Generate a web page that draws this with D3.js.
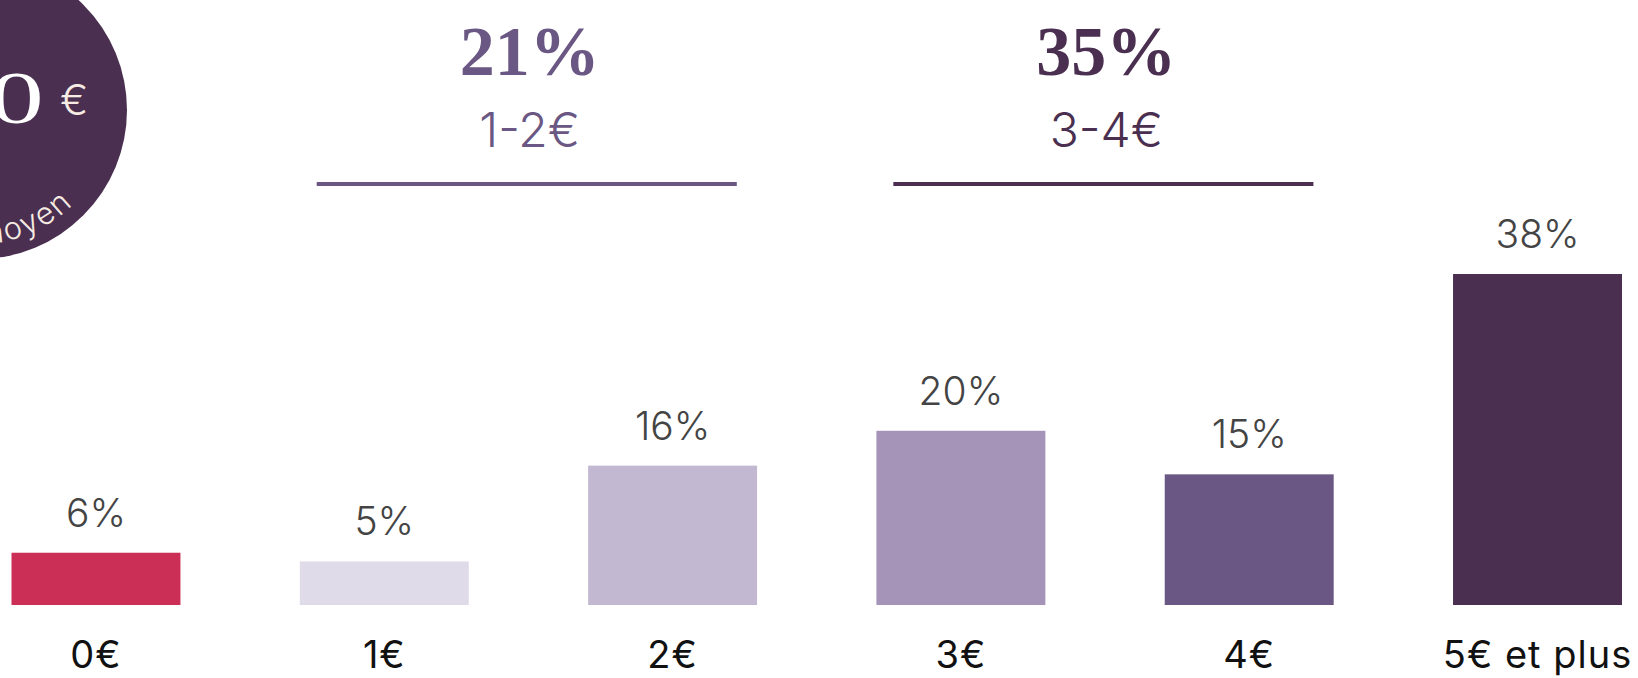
<!DOCTYPE html>
<html>
<head>
<meta charset="utf-8">
<script src="https://cdn.jsdelivr.net/npm/d3@7"></script>
<style>
  body { margin: 0; background: #fff; }
  svg { display: block; }
  .value { font-family: Inter, sans-serif; font-weight: 300; fill: #444; }
  .cat { font-family: Inter, sans-serif; font-weight: 400; fill: #111; }
  .big { font-family: "Liberation Serif", serif; font-weight: bold; }
  .range { font-family: Inter, sans-serif; font-weight: 300; }
</style>
</head>
<body>
<svg width="1638" height="678"></svg>
<script>
const categories = ['0€', '1€', '2€', '3€', '4€', '5€ et plus'];
const values = [6, 5, 16, 20, 15, 38];
const barColors = ['#cb2f56', '#e0dbe8', '#c3b8d1', '#a594b8', '#6b5783', '#4a2f50'];

const groupTotals = ['21%', '35%'];
const groupRanges = ['1-2€', '3-4€'];
const groupSpans = [['1€', '2€'], ['3€', '4€']];
const groupColors = ['#6b5783', '#4a2f50'];

const averageValue = '4,10';
const averageLabel = 'Montant moyen';

const svg = d3.select('svg');
const width = +svg.attr('width');
const height = +svg.attr('height');

const data = categories.map((c, i) => ({ cat: c, value: values[i], color: barColors[i] }));

const baseY = 605;
const topY = 274;

const xScale = d3.scaleBand()
    .domain(categories)
    .range([11.5, 1622])
    .paddingInner(0.414)
    .paddingOuter(0);

const yScale = d3.scaleLinear()
    .domain([0, d3.max(values)])
    .range([baseY, topY]);

const bw = xScale.bandwidth();

// bars
svg.append('g').selectAll('rect').data(data)
    .enter().append('rect')
    .attr('x', d => xScale(d.cat))
    .attr('y', d => yScale(d.value))
    .attr('width', bw)
    .attr('height', d => baseY - yScale(d.value))
    .attr('fill', d => d.color);

// value labels
svg.append('g').selectAll('text').data(data)
    .enter().append('text')
    .attr('class', 'value')
    .attr('x', d => xScale(d.cat) + bw / 2)
    .attr('y', d => yScale(d.value) - 26)
    .attr('text-anchor', 'middle')
    .attr('font-size', 39)
    .text(d => d.value + '%');

// category axis
const xAxis = d3.axisBottom(xScale).tickSize(0).tickPadding(0);
const xAxisG = svg.append('g')
    .attr('transform', `translate(0,${baseY})`)
    .call(xAxis);
xAxisG.select('.domain').remove();
xAxisG.selectAll('text')
    .attr('class', 'cat')
    .attr('font-size', 38)
    .attr('letter-spacing', 1)
    .attr('dy', null)
    .attr('y', 63);

// group headers
groupTotals.forEach((t, i) => {
    const x0 = xScale(groupSpans[i][0]) + bw * 0.1;
    const x1 = xScale(groupSpans[i][1]) + bw * 0.88;
    const cx = (x0 + x1) / 2 + 3;
    const g = svg.append('g').attr('fill', groupColors[i]);
    g.append('text')
        .attr('class', 'big')
        .attr('x', cx)
        .attr('y', 75)
        .attr('text-anchor', 'middle')
        .attr('font-size', 70)
        .text(t);
    g.append('text')
        .attr('class', 'range')
        .attr('x', cx)
        .attr('y', 147)
        .attr('text-anchor', 'middle')
        .attr('font-size', 48)
        .text(groupRanges[i]);
    svg.append('line')
        .attr('x1', x0).attr('x2', x1)
        .attr('y1', 184).attr('y2', 184)
        .attr('stroke', groupColors[i])
        .attr('stroke-width', 4);
});

// average badge
const cx = -22, cy = 110, r = 149, rt = 134;
svg.append('circle')
    .attr('cx', cx).attr('cy', cy).attr('r', r)
    .attr('fill', '#4a2f50');

svg.append('text')
    .attr('transform', 'translate(44,123) scale(1.45,1)')
    .attr('font-family', '"Liberation Serif", serif')
    .attr('text-anchor', 'end')
    .attr('font-size', 75)
    .attr('fill', '#ffffff')
    .text(averageValue);

svg.append('text')
    .attr('x', 60)
    .attr('y', 115)
    .attr('font-family', 'Inter, sans-serif')
    .attr('font-weight', 300)
    .attr('font-size', 42)
    .attr('fill', '#f6ece3')
    .text('€');

svg.append('path')
    .attr('id', 'arc')
    .attr('d', `M${cx - rt},${cy} A${rt},${rt} 0 0 0 ${cx + rt},${cy}`)
    .attr('fill', 'none');

svg.append('text')
    .attr('font-family', 'Inter, sans-serif')
    .attr('font-weight', 300)
    .attr('font-size', 31)
    .attr('letter-spacing', 2)
    .attr('fill', '#f6ece3')
    .append('textPath')
    .attr('href', '#arc')
    .attr('startOffset', '75.5%')
    .attr('text-anchor', 'end')
    .text(averageLabel);
</script>
</body>
</html>
